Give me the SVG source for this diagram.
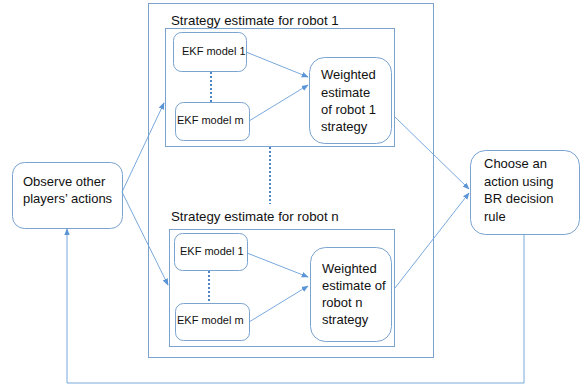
<svg xmlns="http://www.w3.org/2000/svg" width="582" height="387" viewBox="0 0 582 387">
<defs>
<style>
.box{fill:#fff;stroke:#7aa3cf;stroke-width:1}
.frame{fill:none;stroke:#7aa3cf;stroke-width:1}
.ln{fill:none;stroke:#6a9fd8;stroke-width:0.9}
.dot{fill:none;stroke:#4f86c6;stroke-width:2;stroke-dasharray:2 2}
text{font-family:"Liberation Sans",Arial,sans-serif;fill:#111}
.t13{font-size:13px}
.t11{font-size:11px}
.t135{font-size:13.3px}
</style>
<marker id="ah" viewBox="0 0 10 10" refX="9" refY="5" markerWidth="7" markerHeight="7" orient="auto" markerUnits="userSpaceOnUse">
<path d="M0,1 L10,5 L0,9 Z" fill="#5b95d5"/>
</marker>
</defs>
<rect width="582" height="387" fill="#fff"/>

<g id="outer-frame">
<rect class="frame" x="148.5" y="3.5" width="285" height="354"/>
</g>

<g id="robot1-group">
<text class="t135" x="171" y="25">Strategy estimate for robot 1</text>
<rect class="frame" x="165.5" y="28.5" width="229" height="118"/>
</g>
<g id="r1-ekf1">
<rect class="box" x="173.5" y="32.5" width="73" height="39" rx="8"/>
<text class="t11" x="182" y="55">EKF model 1</text>
</g>
<g id="r1-ekfm">
<rect class="box" x="175.5" y="102.5" width="74" height="38" rx="8"/>
<text class="t11" x="177" y="124">EKF model m</text>
</g>
<g id="r1-weighted">
<rect class="box" x="309.5" y="57.5" width="82" height="86" rx="15"/>
<text class="t13" x="321" y="79">Weighted</text>
<text class="t13" x="321" y="96.5">estimate</text>
<text class="t13" x="321" y="114">of robot 1</text>
<text class="t13" x="321" y="131">strategy</text>
</g>

<g id="robotn-group">
<text class="t135" x="171" y="221">Strategy estimate for robot n</text>
<rect class="frame" x="169.5" y="229.5" width="225" height="117"/>
</g>
<g id="rn-ekf1">
<rect class="box" x="174.5" y="233.5" width="73" height="37" rx="8"/>
<text class="t11" x="180" y="255">EKF model 1</text>
</g>
<g id="rn-ekfm">
<rect class="box" x="175.5" y="303.5" width="74" height="37" rx="8"/>
<text class="t11" x="177" y="324">EKF model m</text>
</g>
<g id="rn-weighted">
<rect class="box" x="310.5" y="247.5" width="81" height="94" rx="15"/>
<text class="t13" x="322" y="273">Weighted</text>
<text class="t13" x="322" y="290">estimate of</text>
<text class="t13" x="322" y="307">robot n</text>
<text class="t13" x="322" y="324">strategy</text>
</g>

<g id="observe">
<rect class="box" x="12.5" y="162.5" width="110" height="66" rx="12"/>
<text class="t13" x="23" y="186">Observe other</text>
<text class="t13" x="23" y="203">players’ actions</text>
</g>

<g id="choose">
<rect class="box" x="470.5" y="150.5" width="109" height="84" rx="15"/>
<text class="t13" x="484" y="168">Choose an</text>
<text class="t13" x="484" y="186">action using</text>
<text class="t13" x="484" y="203">BR decision</text>
<text class="t13" x="484" y="221">rule</text>
</g>

<g id="connectors">
<line class="dot" x1="211" y1="72" x2="211" y2="102"/>
<line class="dot" x1="270" y1="147" x2="270" y2="204"/>
<line class="dot" x1="209" y1="271" x2="209" y2="303"/>
<line class="ln" x1="246" y1="52" x2="308" y2="77" marker-end="url(#ah)"/>
<line class="ln" x1="249" y1="121" x2="308" y2="85" marker-end="url(#ah)"/>
<line class="ln" x1="247" y1="253" x2="308" y2="277" marker-end="url(#ah)"/>
<line class="ln" x1="249" y1="322" x2="308" y2="286" marker-end="url(#ah)"/>
<line class="ln" x1="122" y1="192" x2="164" y2="103" marker-end="url(#ah)"/>
<line class="ln" x1="122" y1="192" x2="168" y2="285" marker-end="url(#ah)"/>
<line class="ln" x1="395" y1="117" x2="469" y2="189" marker-end="url(#ah)"/>
<line class="ln" x1="395" y1="288" x2="469" y2="193" marker-end="url(#ah)"/>
<polyline class="ln" points="524,234 524,383 67,383 67,229" marker-end="url(#ah)"/>
</g>
</svg>
